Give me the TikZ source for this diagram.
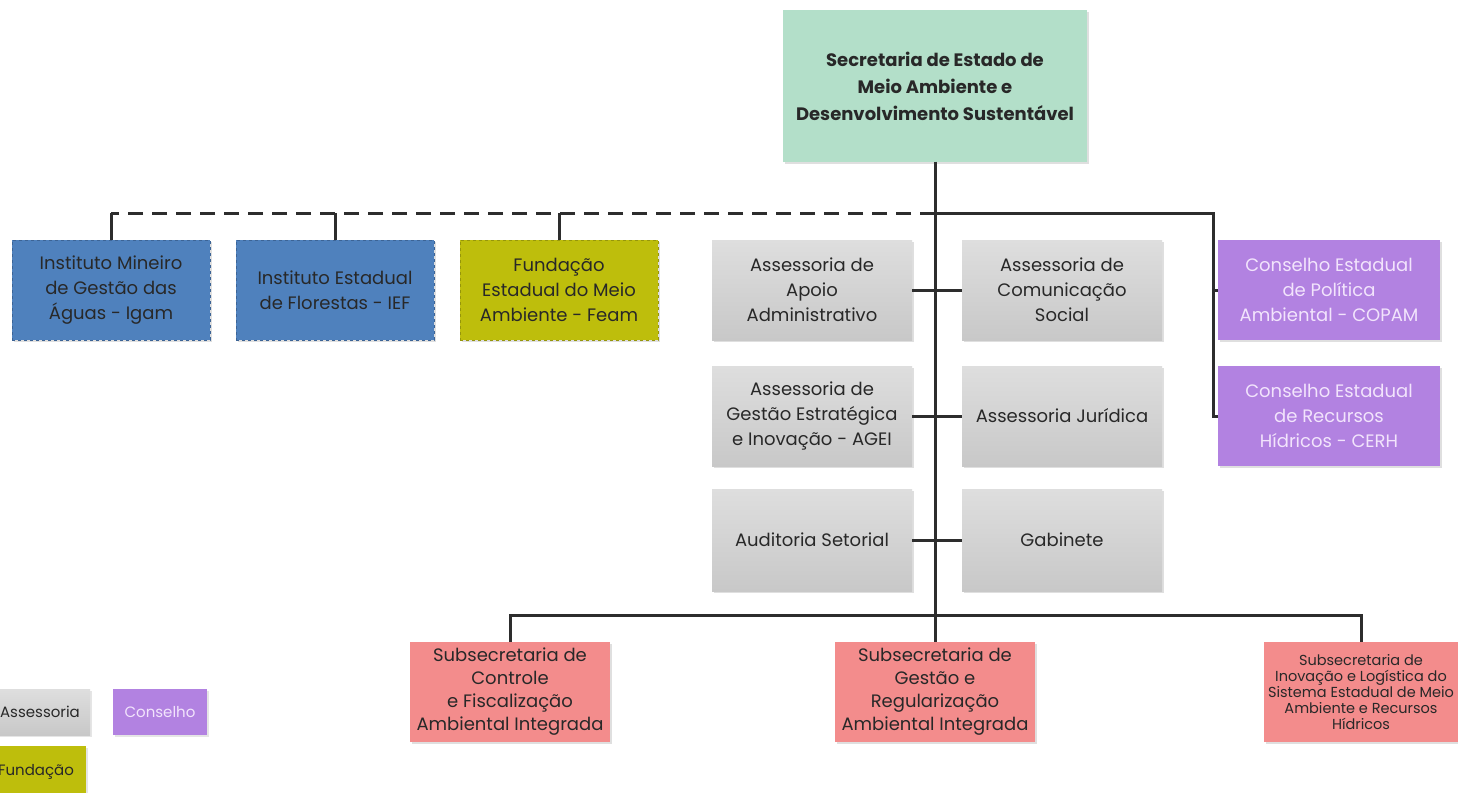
\documentclass[tikz,border=0pt]{standalone}
\usepackage{fontspec}
\setmainfont{Poppins}
\usetikzlibrary{shadows}
\definecolor{txt}{RGB}{40,40,40}
\definecolor{lin}{RGB}{45,45,45}
\definecolor{topg}{RGB}{179,223,201}
\definecolor{blu}{RGB}{79,129,189}
\definecolor{bluD}{RGB}{60,100,150}
\definecolor{oli}{RGB}{190,190,12}
\definecolor{oliD}{RGB}{150,150,10}
\definecolor{grT}{RGB}{222,222,222}
\definecolor{grB}{RGB}{200,200,200}
\definecolor{pur}{RGB}{178,130,225}
\definecolor{purT}{RGB}{242,228,252}
\definecolor{pnk}{RGB}{243,140,140}
\begin{document}
\begin{tikzpicture}[x=1pt,y=-1pt,
  box/.style={rectangle, minimum width=200, minimum height=100, align=center,
    text=txt, font=\fontsize{18}{25}\selectfont, inner sep=1pt,
    drop shadow={opacity=0.25, shadow xshift=2pt, shadow yshift=-2pt}},
  topbox/.style={box, fill=topg, minimum width=304, minimum height=151,
    font=\bfseries\fontsize{18}{27}\selectfont},
  bluebox/.style={box, fill=blu, draw=bluD, dashed, line width=0.8pt, minimum width=198},
  olivebox/.style={box, fill=oli, draw=oliD, dashed, line width=0.8pt, minimum width=198},
  graybox/.style={box, top color=grT, bottom color=grB},
  purbox/.style={box, fill=pur, text=purT, minimum width=222},
  pinkbox/.style={box, fill=pnk, font=\fontsize{18}{23}\selectfont},
  smallpink/.style={pinkbox, minimum width=194, font=\fontsize{14.5}{16}\selectfont},
  conn/.style={draw=lin, line width=3pt},
  dashconn/.style={draw=lin, line width=3pt, dash pattern=on 15pt off 9pt},
  legbox/.style={rectangle, align=center, text=txt, font=\fontsize{15}{16}\selectfont,
    minimum height=46, inner sep=1pt,
    drop shadow={opacity=0.2, shadow xshift=2pt, shadow yshift=-2pt}}
]
\useasboundingbox (0,0) rectangle (1458,792);
\fill[white] (0,0) rectangle (1458,792);

% nodes
\node[topbox] (top) at (935,86) {Secretaria de Estado de\\Meio Ambiente e\\Desenvolvimento Sustentável};

\node[bluebox] (igam) at (111,290) {Instituto Mineiro\\de Gestão das\\Águas - Igam};
\node[bluebox] (ief) at (335,290) {Instituto Estadual\\de Florestas - IEF};
\node[olivebox] (feam) at (559,290) {Fundação\\Estadual do Meio\\Ambiente - Feam};

\node[graybox] (apoio) at (812,290) {Assessoria de\\Apoio\\Administrativo};
\node[graybox] (comun) at (1062,290) {Assessoria de\\Comunicação\\Social};
\node[graybox] (agei) at (812,416) {Assessoria de\\Gestão Estratégica\\e Inovação - AGEI};
\node[graybox] (jurid) at (1062,416) {Assessoria Jurídica};
\node[graybox, minimum height=102] (audit) at (812,540) {Auditoria Setorial};
\node[graybox, minimum height=102] (gabin) at (1062,540) {Gabinete};

\node[purbox] (copam) at (1329,290) {Conselho Estadual\\de Política\\Ambiental - COPAM};
\node[purbox] (cerh) at (1329,416) {Conselho Estadual\\de Recursos\\Hídricos - CERH};

\node[pinkbox] (sub1) at (510,692) {Subsecretaria de\\Controle\\e Fiscalização\\Ambiental Integrada};
\node[pinkbox] (sub2) at (935,692) {Subsecretaria de\\Gestão e\\Regularização\\Ambiental Integrada};
\node[smallpink] (sub3) at (1361,692) {Subsecretaria de\\Inovação e Logística do\\Sistema Estadual de Meio\\Ambiente e Recursos\\Hídricos};

% legend
\node[legbox, top color=grT, bottom color=grB, minimum width=100] (legA) at (40,712) {Assessoria};
\node[legbox, fill=pur, text=purT, minimum width=94] (legC) at (160,712) {Conselho};
\node[legbox, fill=oli, minimum width=100, minimum height=52] (legF) at (36,772) {Fundação};

% connectors
\coordinate (j1) at (935,213);
\coordinate (j2) at (935,615);
\coordinate (rj) at (1213,213);
\draw[conn] (top.south) -- (sub2.north);
\draw[dashconn] (j1) -- (j1 -| igam.north);
\draw[conn] (j1 -| igam.north) -- (igam.north);
\draw[conn] (j1 -| ief.north) -- (ief.north);
\draw[conn] (j1 -| feam.north) -- (feam.north);
\draw[conn] (j1) -- (rj) |- (cerh.west);
\draw[conn] (rj |- copam.west) -- (copam.west);
\draw[conn] (apoio.east) -- (comun.west);
\draw[conn] (agei.east) -- (jurid.west);
\draw[conn] (audit.east) -- (gabin.west);
\draw[conn] (sub1.north) -- (sub1.north |- j2) -- (sub3.north |- j2) -- (sub3.north);
\end{tikzpicture}
\end{document}
